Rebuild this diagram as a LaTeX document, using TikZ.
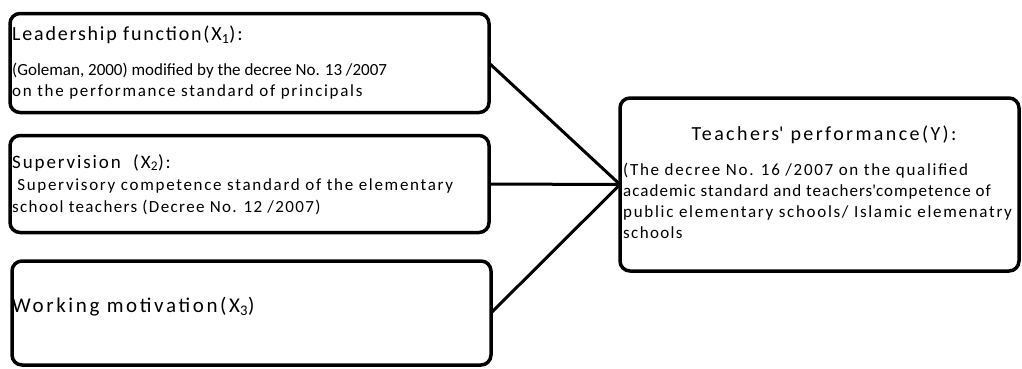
\documentclass[tikz,border=0pt]{standalone}
\usepackage{fontspec}
\setmainfont{Carlito}
\usetikzlibrary{positioning}
\newcommand{\spaced}[1]{\addfontfeature{LetterSpace=#1}}
\tikzset{
  factor/.style={draw,line width=3.5pt,rounded corners=10pt,inner sep=0pt,outer sep=0pt},
  head/.style={anchor=base west,inner sep=0pt,font=\fontsize{20}{24}\selectfont},
  body/.style={anchor=base west,inner sep=0pt,align=left,font=\fontsize{17}{21}\selectfont},
  link/.style={line width=3pt},
}
\begin{document}
\begin{tikzpicture}[x=1pt,y=-1pt]
  \useasboundingbox (0,0) rectangle (1022,368);
  \node[factor,minimum width=479pt,minimum height=99pt] (x1) at (249.5,63) {};
  \node[factor,minimum width=479pt,minimum height=97pt] (x2) at (249.5,184) {};
  \node[factor,minimum width=479pt,minimum height=104pt] (x3) at (251.5,313) {};
  \node[factor,minimum width=399pt,minimum height=173pt] (y) at (819.5,184.5) {};

  % text, anchored at the baseline of the last line
  \node[head] (h1) at (12,40) {\spaced{9}Leadership function(X\textsubscript{1}):};
  \node[body] (b1) at (12,96) {(Goleman, 2000) modified by the decree No. 13 /2007\\{\spaced{10}on the performance standard of principals}};
  \node[head,font=\fontsize{19}{23}\selectfont] (h2) at (12,168) {\spaced{10}Supervision\ \ (X\textsubscript{2}):};
  \node[body,font=\fontsize{17}{22}\selectfont] (b2) at (12,212) {{\spaced{10}\hspace*{.3em}Supervisory competence standard of the elementary}\\{\spaced{8}school teachers (Decree No. 12 /2007)}};
  \node[head,font=\fontsize{21}{25}\selectfont] (h3) at (12,312) {\spaced{12.5}Working motivation(X\textsubscript{3})};
  \node[head,anchor=base] (hy) at (824,140) {\spaced{12}Teachers\textquotesingle\ performance(Y):};
  \node[body] (by) at (623,238) {{\spaced{10}(The decree No. 16 /2007 on the qualified}\\{\spaced{6}academic standard and teachers\textquotesingle competence of}\\{\spaced{10}public elementary schools/ Islamic elemenatry}\\{\spaced{8}schools}};

  \draw[link] (x1.east) -- (y.west);
  \draw[link] (x2.east) -- (y.west);
  \draw[link] (x3.east) -- (y.west);
\end{tikzpicture}
\end{document}
